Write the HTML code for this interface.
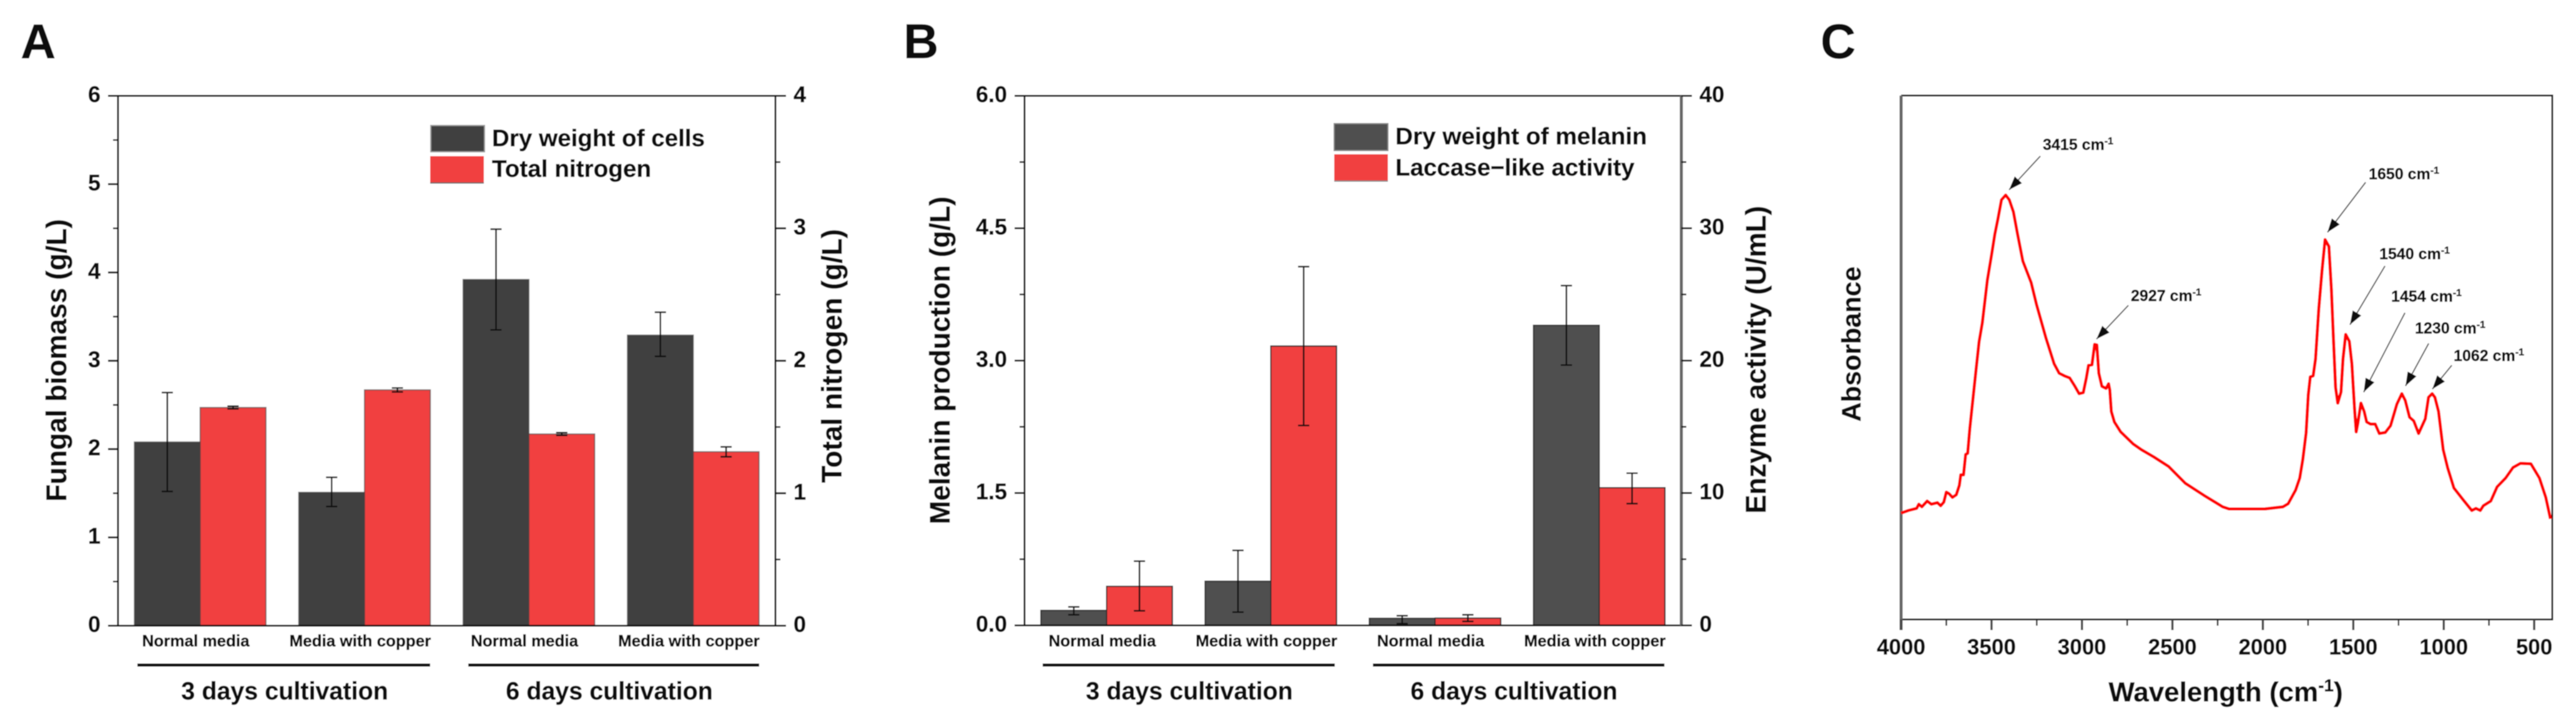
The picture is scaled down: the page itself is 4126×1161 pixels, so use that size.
<!DOCTYPE html>
<html lang="en">
<head>
<meta charset="utf-8">
<title>Fungal biomass, melanin production and FTIR spectrum</title>
<style>
html,body{margin:0;padding:0;background:#fff;width:4126px;height:1161px;overflow:hidden}
svg{display:block}
text{font-family:"Liberation Sans",sans-serif;font-weight:bold;fill:#111;stroke:#111;stroke-width:0.5px}
</style>
</head>
<body>
<svg id="figure" xmlns="http://www.w3.org/2000/svg" width="4126" height="1161" viewBox="0 0 4126 1161">
<defs>
<filter id="soft" x="0" y="0" width="100%" height="100%"><feGaussianBlur stdDeviation="0.8"/></filter>
<marker id="arrowhead" markerUnits="userSpaceOnUse" markerWidth="24" markerHeight="18" refX="22" refY="9" orient="auto"><path d="M0,1 L22,9 L0,17 Z" fill="#111"/></marker>
</defs>
<g id="root" filter="url(#soft)">
<rect x="0" y="0" width="4126" height="1161" fill="#fff"/>

<text x="33" y="93" font-size="78">A</text>
<text x="1447" y="93" font-size="78">B</text>
<text x="2916" y="93" font-size="78">C</text>

<text transform="translate(106,577) rotate(-90)" text-anchor="middle" font-size="45">Fungal biomass (g/L)</text>
<text transform="translate(1348,570) rotate(-90)" text-anchor="middle" font-size="45">Total nitrogen (g/L)</text>
<text transform="translate(1521,577) rotate(-90)" text-anchor="middle" font-size="45">Melanin production (g/L)</text>
<text transform="translate(2828,576) rotate(-90)" text-anchor="middle" font-size="45">Enzyme activity (U/mL)</text>
<text transform="translate(2980,551) rotate(-90)" text-anchor="middle" font-size="43">Absorbance</text>
<text x="3565" y="1123" text-anchor="middle" font-size="44">Wavelength (cm<tspan dy="-16" font-size="28">-1</tspan><tspan dy="16">)</tspan></text>

<g>
<rect x="690" y="201" width="86" height="42" fill="#404040" stroke="#999" stroke-width="2"/>
<rect x="689" y="250" width="86" height="43" fill="#F14141"/>
<line x1="689" y1="293" x2="775" y2="293" stroke="#666" stroke-width="2"/>
<text x="788" y="234" font-size="38" textLength="341" lengthAdjust="spacingAndGlyphs">Dry weight of cells</text>
<text x="788" y="283" font-size="38" textLength="255" lengthAdjust="spacingAndGlyphs">Total nitrogen</text>
</g>
<g>
<rect x="2137" y="198" width="86" height="43" fill="#505050" stroke="#888" stroke-width="2"/>
<rect x="2137" y="247" width="86" height="43" fill="#F14141"/>
<line x1="2137" y1="290" x2="2223" y2="290" stroke="#888" stroke-width="2"/>
<text x="2235" y="231" font-size="38" textLength="403" lengthAdjust="spacingAndGlyphs">Dry weight of melanin</text>
<text x="2235" y="281" font-size="38" textLength="383" lengthAdjust="spacingAndGlyphs">Laccase&#8722;like activity</text>
</g>

<g>
<line x1="220" y1="1065" x2="689" y2="1065" stroke="#111" stroke-width="5"/>
<line x1="750" y1="1065" x2="1216" y2="1065" stroke="#111" stroke-width="5"/>
<line x1="1670" y1="1065" x2="2138" y2="1065" stroke="#111" stroke-width="5"/>
<line x1="2199" y1="1065" x2="2666" y2="1065" stroke="#111" stroke-width="5"/>
<text x="456" y="1120" text-anchor="middle" font-size="39.5">3 days cultivation</text>
<text x="976" y="1120" text-anchor="middle" font-size="39.5">6 days cultivation</text>
<text x="1905" y="1120" text-anchor="middle" font-size="39.5">3 days cultivation</text>
<text x="2425" y="1120" text-anchor="middle" font-size="39.5">6 days cultivation</text>
</g>

<g id="panel-a"></g>
<g id="panel-b"></g>
<g id="panel-c"></g>

<g font-size="25">
<text x="3272" y="240" font-size="25">3415 cm<tspan dy="-9" font-size="16">-1</tspan></text>
<text x="3413" y="482" font-size="25">2927 cm<tspan dy="-9" font-size="16">-1</tspan></text>
<text x="3794" y="287" font-size="25">1650 cm<tspan dy="-9" font-size="16">-1</tspan></text>
<text x="3811" y="415" font-size="25">1540 cm<tspan dy="-9" font-size="16">-1</tspan></text>
<text x="3830" y="483" font-size="25">1454 cm<tspan dy="-9" font-size="16">-1</tspan></text>
<text x="3868" y="534" font-size="25">1230 cm<tspan dy="-9" font-size="16">-1</tspan></text>
<text x="3930" y="578" font-size="25">1062 cm<tspan dy="-9" font-size="16">-1</tspan></text>
<line x1="3268" y1="250" x2="3218" y2="304" stroke="#555" stroke-width="2" marker-end="url(#arrowhead)"/>
<line x1="3409" y1="489" x2="3358" y2="543" stroke="#555" stroke-width="2" marker-end="url(#arrowhead)"/>
<line x1="3789" y1="292" x2="3728" y2="372" stroke="#555" stroke-width="2" marker-end="url(#arrowhead)"/>
<line x1="3820" y1="426" x2="3764" y2="520" stroke="#555" stroke-width="2" marker-end="url(#arrowhead)"/>
<line x1="3852" y1="501" x2="3786" y2="628" stroke="#555" stroke-width="2" marker-end="url(#arrowhead)"/>
<line x1="3890" y1="550" x2="3853" y2="618" stroke="#555" stroke-width="2" marker-end="url(#arrowhead)"/>
<line x1="3927" y1="585" x2="3896" y2="623" stroke="#555" stroke-width="2" marker-end="url(#arrowhead)"/>
</g>
</g>
</svg>

<script>
// ---- Chart data ----
const categories = ['Normal media', 'Media with copper', 'Normal media', 'Media with copper'];

const biomass = [2.08, 1.51, 3.92, 3.29];
const biomassLow = [1.52, 1.35, 3.35, 3.05];
const biomassHigh = [2.64, 1.68, 4.49, 3.55];
const nitrogen = [1.647, 1.78, 1.447, 1.313];
const nitrogenLow = [1.637, 1.765, 1.437, 1.275];
const nitrogenHigh = [1.657, 1.795, 1.457, 1.35];

const melanin = [0.17, 0.5, 0.08, 3.4];
const melaninLow = [0.12, 0.15, 0.02, 2.95];
const melaninHigh = [0.21, 0.85, 0.11, 3.85];
const laccase = [2.95, 21.1, 0.55, 10.4];
const laccaseLow = [1.1, 15.1, 0.3, 9.2];
const laccaseHigh = [4.85, 27.1, 0.8, 11.5];

const ticksA = ['0', '1', '2', '3', '4', '5', '6'];
const minorTicksA = [0.5, 1.5, 2.5, 3.5, 4.5, 5.5];
const ticksARight = ['0', '1', '2', '3', '4'];
const minorTicksARight = [0.5, 1.5, 2.5, 3.5];
const ticksB = ['0.0', '1.5', '3.0', '4.5', '6.0'];
const minorTicksB = [0.75, 2.25, 3.75, 5.25];
const ticksBRight = ['0', '10', '20', '30', '40'];
const minorTicksBRight = [5, 15, 25, 35];

const ticksC = [4000, 3500, 3000, 2500, 2000, 1500, 1000, 500];
const minorTicksC = [3750, 3250, 2750, 2250, 1750, 1250, 750];

const wavenumbers = [4000,3960,3914,3902,3885,3856,3833,3799,3781,3764,3750,3735,3716,3695,3678,3670,3655,3643,3632,3620,3603,3586,3569,3551,3523,3499,3482,3465,3445,3422,3402,3379,3356,3327,3281,3252,3200,3154,3126,3097,3068,3039,3016,2993,2976,2964,2945,2930,2918,2907,2890,2867,2853,2846,2838,2821,2786,2717,2671,2602,2521,2429,2326,2222,2187,2070,1989,1889,1860,1819,1796,1779,1761,1749,1738,1722,1709,1691,1673,1656,1635,1621,1609,1598,1586,1568,1557,1542,1522,1508,1493,1484,1475,1458,1440,1426,1405,1379,1356,1323,1294,1259,1232,1213,1189,1166,1139,1102,1084,1064,1049,1029,1003,979,944,892,845,822,798,781,740,705,658,617,576,518,471,436,410];
const absorbance = [20.3,20.8,21.2,22.0,21.5,22.6,22.0,22.3,21.7,22.4,24.3,24.0,23.3,23.8,25.6,27.6,27.6,31.5,31.7,36.5,42.0,47.5,53.0,56.6,64.8,69.8,73.5,76.4,80.1,81.0,80.1,77.8,73.5,68.4,64.3,60.2,53.8,48.8,47.0,46.5,46.1,44.5,43.1,43.3,46.1,48.5,48.6,52.5,52.4,47.0,44.5,44.1,45.0,43.8,39.7,37.7,35.8,33.5,32.4,31.0,29.2,26.0,23.7,21.5,21.1,21.1,21.1,21.5,22.1,24.7,27.0,30.6,35.6,42.9,46.3,46.5,49.7,59.3,66.6,72.5,71.2,63.0,53.0,44.3,41.3,43.4,49.7,54.4,53.1,48.8,40.2,35.8,37.4,41.3,39.7,37.7,37.3,37.3,35.5,35.7,37.0,41.1,43.1,41.8,38.6,37.9,35.5,38.3,42.4,43.1,42.4,39.7,32.4,29.0,25.1,22.8,20.8,21.2,20.8,21.7,22.6,25.3,27.0,29.0,29.8,29.7,27.0,23.3,19.2];

// ---- Helpers ----
const NS = 'http://www.w3.org/2000/svg';
function mk(tag, attrs, parent) {
  const el = document.createElementNS(NS, tag);
  for (const k in attrs) el.setAttribute(k, attrs[k]);
  parent.appendChild(el);
  return el;
}
function makeLinear(d0, d1, r0, r1) {
  return v => r0 + (v - d0) * (r1 - r0) / (d1 - d0);
}

function drawBarPanel(p) {
  const g = document.getElementById(p.id);
  const yL = makeLinear(0, p.maxLeft, p.bottom, p.top);
  const yR = makeLinear(0, p.maxRight, p.bottom, p.top);
  const band = (p.right - p.left) / categories.length;
  const cx = i => p.left + band * (i + 0.5);
  const barW = band * 0.4;

  // bars and error bars
  categories.forEach((c, i) => {
    const darkBar = mk('rect', {x: cx(i) - barW, y: yL(p.dark[i]), width: barW, height: p.bottom - yL(p.dark[i]), fill: p.darkColor, stroke: p.barStroke, 'stroke-width': 2}, g);
    
    
    const redBar = mk('rect', {x: cx(i), y: yR(p.red[i]), width: barW, height: p.bottom - yR(p.red[i]), fill: '#F14141', stroke: p.barStroke, 'stroke-width': 2}, g);
    
    
  });
  categories.forEach((c, i) => {
    const ex = cx(i) - barW / 2;
    const e1 = mk('path', {d: `M${ex - 9},${yL(p.darkHigh[i])}H${ex + 9}M${ex},${yL(p.darkHigh[i])}V${yL(p.darkLow[i])}M${ex - 9},${yL(p.darkLow[i])}H${ex + 9}`, stroke: '#111', 'stroke-width': 2.5, fill: 'none'}, g);
    
    
    const rx = cx(i) + barW / 2;
    const e2 = mk('path', {d: `M${rx - 9},${yR(p.redHigh[i])}H${rx + 9}M${rx},${yR(p.redHigh[i])}V${yR(p.redLow[i])}M${rx - 9},${yR(p.redLow[i])}H${rx + 9}`, stroke: '#111', 'stroke-width': 2.5, fill: 'none'}, g);
    
    
    const lab = mk('text', {x: cx(i) - 7, y: 1035, 'text-anchor': 'middle', 'font-size': 26}, g);
    lab.textContent = c;
    
    
  });

  // frame
  const frame = mk('path', {d: `M${p.left},${p.bottom}V${p.top}H${p.right}M${p.left},${p.bottom}H${p.right}`, stroke: '#111', 'stroke-width': 3, fill: 'none'}, g);
  
  
  const rightSpine = mk('line', {x1: p.right, y1: p.top, x2: p.right, y2: p.bottom, stroke: p.rightSpine, 'stroke-width': p.rightSpineW}, g);
  
  

  // left axis
  p.ticksLeft.forEach(t => {
    const y = yL(parseFloat(t));
    const tick = mk('line', {x1: p.left - 16, y1: y, x2: p.left, y2: y, stroke: '#111', 'stroke-width': 3}, g);
    
    
    const lab = mk('text', {x: p.left - 28, y: y + 10, 'text-anchor': 'end', 'font-size': 36}, g);
    lab.textContent = t;
    
    
  });
  p.minorLeft.forEach(t => {
    const y = yL(t);
    const tick = mk('line', {x1: p.left - 8, y1: y, x2: p.left, y2: y, stroke: '#111', 'stroke-width': 2.5}, g);
    
    
  });

  // right axis
  p.ticksRight.forEach(t => {
    const y = yR(parseFloat(t));
    const tick = mk('line', {x1: p.right, y1: y, x2: p.right + 17, y2: y, stroke: '#111', 'stroke-width': 3}, g);
    
    
    const lab = mk('text', {x: p.right + 29, y: y + 10, 'font-size': 36}, g);
    lab.textContent = t;
    
    
  });
  p.minorRight.forEach(t => {
    const y = yR(t);
    const tick = mk('line', {x1: p.right, y1: y, x2: p.right + 8, y2: y, stroke: '#111', 'stroke-width': 2.5}, g);
    
    
  });
}

drawBarPanel({
  id: 'panel-a', left: 189, right: 1242, top: 153.5, bottom: 1002,
  maxLeft: 6, maxRight: 4, darkColor: '#404040', barStroke: 'rgba(60,60,60,0.6)',
  rightSpine: '#111', rightSpineW: 3,
  dark: biomass, darkLow: biomassLow, darkHigh: biomassHigh,
  red: nitrogen, redLow: nitrogenLow, redHigh: nitrogenHigh,
  ticksLeft: ticksA, minorLeft: minorTicksA, ticksRight: ticksARight, minorRight: minorTicksARight
});
drawBarPanel({
  id: 'panel-b', left: 1641, right: 2693, top: 153.5, bottom: 1001.5,
  maxLeft: 6, maxRight: 40, darkColor: '#505050', barStroke: '#2a2a2a',
  rightSpine: '#666', rightSpineW: 5,
  dark: melanin, darkLow: melaninLow, darkHigh: melaninHigh,
  red: laccase, redLow: laccaseLow, redHigh: laccaseHigh,
  ticksLeft: ticksB, minorLeft: minorTicksB, ticksRight: ticksBRight, minorRight: minorTicksBRight
});

// ---- Panel C: spectrum ----
(function () {
  const g = document.getElementById('panel-c');
  const left = 3045, right = 4088, top = 153, bottom = 992;
  const x = makeLinear(4000, 400, left, right);
  const y = makeLinear(0, 100, bottom, top);

  const topLine = mk('path', {d: `M${left},${bottom}H${right}V${top}H${left}`, stroke: '#111', 'stroke-width': 3, fill: 'none'}, g);
  
  
  const leftLine = mk('line', {x1: left, y1: top, x2: left, y2: bottom + 17, stroke: '#666', 'stroke-width': 5}, g);
  
  

  ticksC.forEach(t => {
    const tick = mk('line', {x1: x(t), y1: bottom, x2: x(t), y2: bottom + 17, stroke: '#444', 'stroke-width': 3.5}, g);
    
    
    const lab = mk('text', {x: x(t), y: 1048, 'text-anchor': 'middle', 'font-size': 35}, g);
    lab.textContent = String(t);
    
    
  });
  minorTicksC.forEach(t => {
    const tick = mk('line', {x1: x(t), y1: bottom, x2: x(t), y2: bottom + 10, stroke: '#222', 'stroke-width': 2.5}, g);
    
    
  });

  const d = wavenumbers.map((w, i) => (i ? 'L' : 'M') + x(w).toFixed(1) + ',' + y(absorbance[i]).toFixed(1)).join('');
  const line = mk('path', {d: d, fill: 'none', stroke: '#FF0505', 'stroke-width': 5, 'stroke-linejoin': 'round'}, g);
  
  
})();
</script>
</body>
</html>
